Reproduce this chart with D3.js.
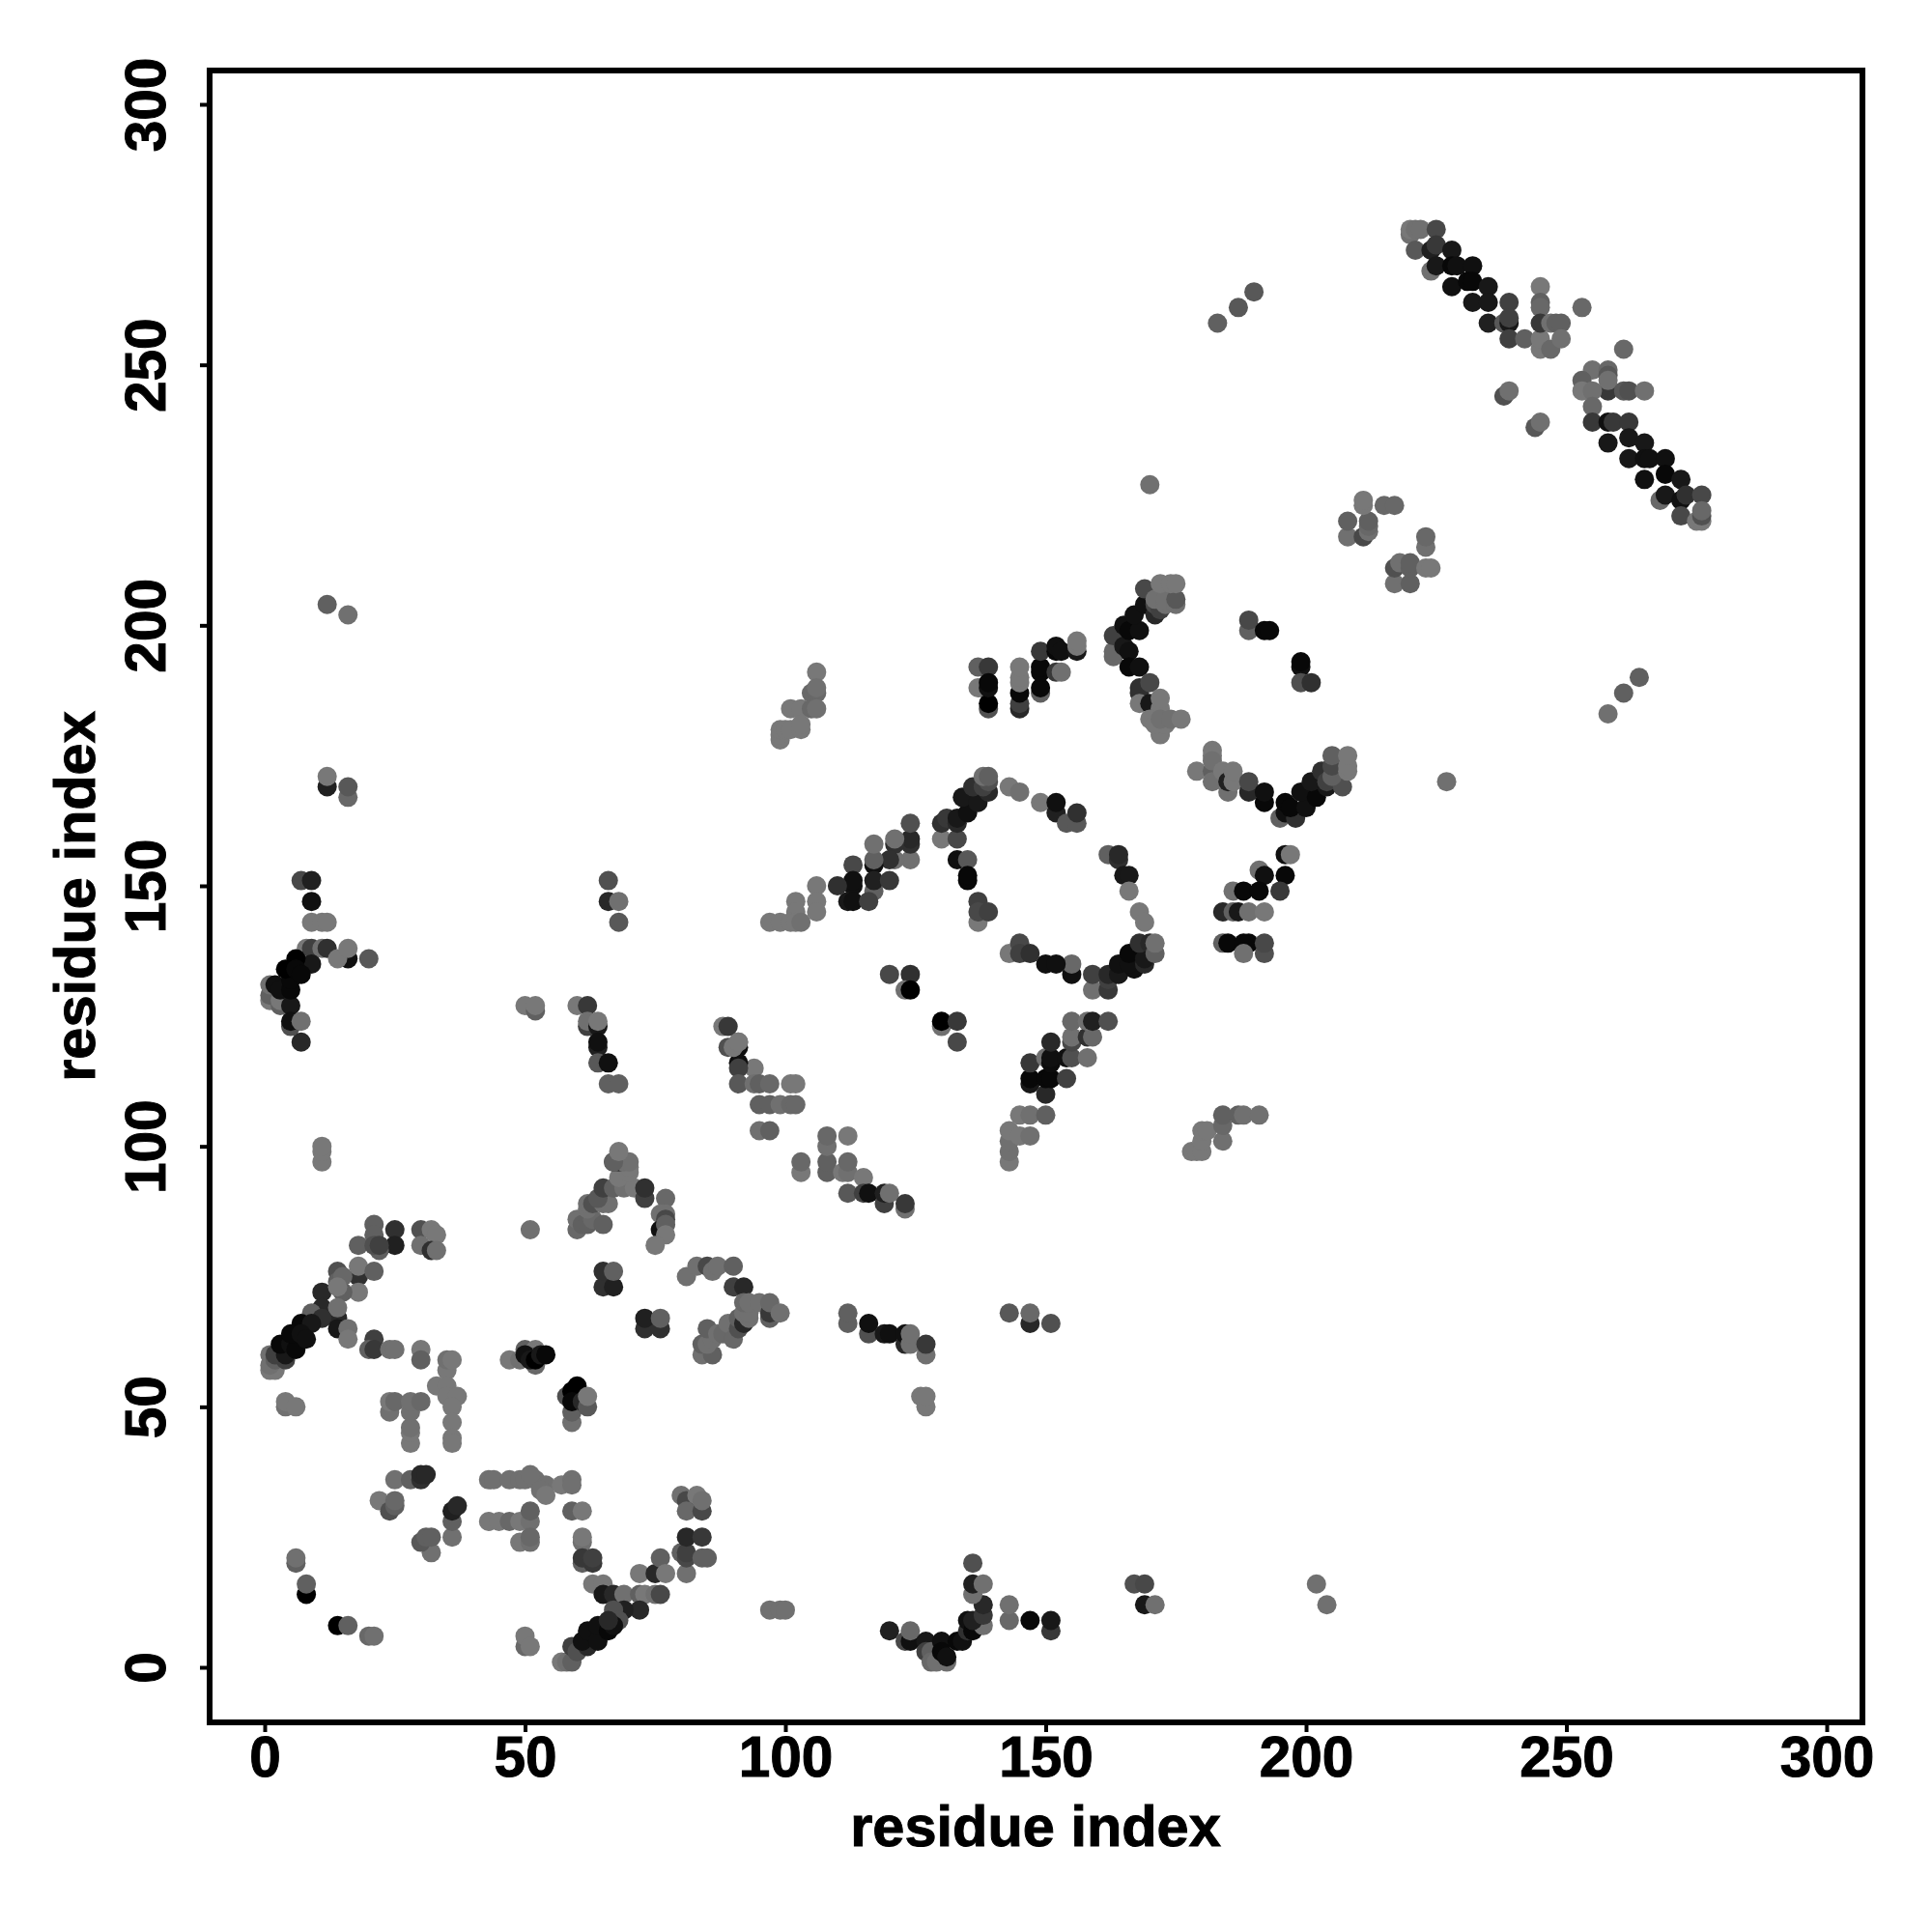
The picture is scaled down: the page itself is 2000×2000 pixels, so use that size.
<!DOCTYPE html>
<html><head><meta charset="utf-8">
<script src="https://cdn.jsdelivr.net/npm/d3@7"></script>
<style>html,body{margin:0;background:#fff}svg{display:block}</style>
</head><body><svg id="c" width="2000" height="2000"></svg>
<script>
const xTicks=[0,50,100,150,200,250,300];
const yTicks=[0,50,100,150,200,250,300];
const axisLabel="residue index";
// each row: residue x, residue y, grey level
const clusterA=[[21,85,0x60],[21,83,0x60],[25,84,0x30],[25,81,0x20],[18,81,0x60],[22,80,0x60],[21,81,0x50],[22,81,0x40],[30,84,0x50],[32,84,0x78],[33,83,0x78],[30,81,0x70],[32,80,0x30],[33,80,0x70],
[18,75,0x30],[18,77,0x78],[21,76,0x60],[14,76,0x50],[14,74,0x60],[15,75,0x68],[18,72,0x78],[15,72,0x60],[11,72,0x28],[14,73,0x78],[11,69,0x28],[14,67,0x28],[14,69,0x70],[9,68,0x60],[11,67,0x30],[7,66,0x08],[9,66,0x18],[14,65,0x18],[16,65,0x70],[16,63,0x78],
[1,57,0x78],[2,57,0x78],[1,58,0x70],[1,60,0x70],[2,59,0x60],[2,60,0x40],[4,59,0x40],[4,60,0x18],[3,62,0x08],[5,62,0x10],[6,61,0x08],[5,64,0x08],[7,64,0x10],[8,63,0x10],
[21,63,0x40],[20,61,0x60],[21,61,0x38],[24,61,0x70],[25,61,0x70],[30,61,0x78],[30,59,0x60],[35,57,0x78],[35,59,0x70],[36,59,0x78],[33,54,0x78],[35,54,0x78],[35,52,0x78],[37,52,0x78],[36,50,0x78],[36,47,0x78],[36,44,0x78],[36,43,0x78],
[24,49,0x70],[24,51,0x78],[25,51,0x68],[28,43,0x78],[28,45,0x78],[28,46,0x70],[28,49,0x70],[28,51,0x70],[30,51,0x68],[4,50,0x70],[4,51,0x78],[6,50,0x78]];
const clusterB=[[25,36,0x70],[28,36,0x60],[30,36,0x30],[30,37,0x28],[31,37,0x28],[22,32,0x78],[24,30,0x50],[25,31,0x60],[25,32,0x68],[36,25,0x70],[36,28,0x60],[36,30,0x20],[37,31,0x28],[32,22,0x70],[30,24,0x58],[31,25,0x60],[32,25,0x60],
[43,36,0x70],[44,36,0x70],[47,36,0x70],[49,36,0x70],[50,36,0x70],[52,36,0x70],[51,37,0x70],[54,35,0x70],[53,34,0x70],[54,33,0x78],[57,35,0x78],[59,36,0x70],[59,35,0x70],
[43,28,0x78],[45,28,0x78],[47,28,0x68],[49,28,0x78],[51,28,0x70],[51,30,0x60],[49,24,0x78],[51,24,0x70],[51,25,0x68],[59,30,0x60],[61,30,0x78],[61,24,0x70],[61,25,0x78],[61,20,0x60],[63,20,0x38],[61,21,0x38],[63,21,0x40],
[63,16,0x78],[65,16,0x78],[65,14,0x18],[67,14,0x28],[69,14,0x70],[72,18,0x78],[75,18,0x28],[76,21,0x60],[77,18,0x78],[72,14,0x60],[73,14,0x78],[75,14,0x70],[76,14,0x48],[72,11,0x28],[69,11,0x20],[67,11,0x50],[68,9,0x50],
[57,1,0x78],[58,1,0x70],[59,1,0x60],[59,4,0x40],[60,3,0x50],[62,4,0x28],[61,5,0x10],[62,7,0x10],[64,5,0x10],[64,8,0x10],[66,7,0x08],[67,8,0x10],[66,9,0x28],
[81,18,0x70],[80,22,0x60],[81,21,0x48],[81,22,0x40],[81,25,0x28],[84,25,0x38],[84,21,0x60],[85,21,0x60],[80,33,0x70],[81,32,0x48],[83,33,0x78],[81,30,0x68],[84,30,0x48],[84,32,0x70],
[6,20,0x60],[6,21,0x70],[8,14,0x00],[8,16,0x60],[14,8,0x00],[16,8,0x60],[20,6,0x68],[21,6,0x70],[50,4,0x68],[50,6,0x78],[51,4,0x78],[51,84,0x70],
[47,59,0x78],[49,59,0x70],[50,61,0x60],[52,61,0x78],[52,58,0x68],[50,60,0x10],[51,59,0x18],[52,59,0x00],[53,60,0x18],[54,60,0x08],
[59,47,0x70],[59,49,0x60],[58,52,0x50],[60,54,0x00],[59,53,0x00],[59,51,0x08],[61,51,0x28],[62,50,0x58],[62,52,0x78]];
const clusterC=[[60,84,0x68],[60,86,0x70],[61,85,0x60],[62,85,0x60],[63,86,0x68],[65,85,0x60],[62,88,0x70],[62,89,0x70],[63,89,0x50],[65,89,0x70],[66,89,0x70],[64,90,0x58],[65,92,0x40],[67,92,0x60],[69,92,0x70],[71,92,0x78],[68,94,0x78],[70,95,0x78],[70,96,0x78],[67,97,0x40],[68,97,0x30],[69,97,0x70],[70,97,0x70],[67,97,0x60],[68,99,0x78],
[73,90,0x40],[73,92,0x30],[77,90,0x68],[76,87,0x70],[77,87,0x70],[77,86,0x48],[76,84,0x10],[77,85,0x60],[77,83,0x78],[75,81,0x78],
[65,73,0x30],[67,73,0x20],[65,76,0x30],[67,76,0x60],[73,65,0x30],[76,65,0x30],[73,67,0x20],[76,67,0x60],
[81,75,0x70],[83,77,0x70],[85,77,0x48],[86,76,0x70],[87,77,0x70],[90,77,0x60],[90,73,0x40],[92,73,0x28],
[84,60,0x70],[86,60,0x60],[84,62,0x60],[85,62,0x70],[86,63,0x70],[85,65,0x60],[87,64,0x70],[88,64,0x68],[89,66,0x70],[90,63,0x68],[91,65,0x50],[91,67,0x60],[92,66,0x28],[93,67,0x70],[92,68,0x70],[93,68,0x70],[92,70,0x68],[93,70,0x70],[95,70,0x70],[97,67,0x60],[97,68,0x38],[97,70,0x68],[99,68,0x70]];
const clusterD=[[112,66,0x60],[112,68,0x60],[116,64,0x50],[116,66,0x10],[119,64,0x18],[120,64,0x10],[123,62,0x28],[123,64,0x10],[124,62,0x70],[124,64,0x70],[127,60,0x70],[127,62,0x38],[126,52,0x78],[127,50,0x78],[127,52,0x78],
[143,68,0x58],[147,66,0x28],[147,68,0x68],[151,66,0x50],[97,11,0x70],[99,11,0x70],[100,11,0x70],
[120,7,0x20],[123,5,0x48],[124,5,0x10],[124,7,0x68],[127,5,0x18],[127,3,0x40],[128,3,0x60],[128,1,0x68],[129,1,0x70],[131,1,0x70],[130,5,0x10],[130,3,0x08],[131,2,0x10],[133,5,0x08],[134,5,0x10],[135,7,0x30],[135,9,0x10],[136,7,0x08],[138,8,0x70],[136,9,0x20],[138,10,0x38],[138,12,0x28],[136,14,0x70],[136,16,0x20],[138,16,0x70],[136,20,0x50],
[143,9,0x68],[143,12,0x70],[147,9,0x08],[151,7,0x38],[151,9,0x18],[167,16,0x50],[169,16,0x48],[169,12,0x18],[171,12,0x70],[202,16,0x70],[204,12,0x70],
[120,133,0x48],[124,133,0x30],[123,130,0x70],[124,130,0x00],[130,123,0x70],[130,124,0x00],[133,124,0x38],[133,120,0x48],
[94,115,0x78],[91,120,0x70],[91,119,0x10],[91,116,0x10],[91,115,0x40],[91,112,0x58],[94,112,0x70],[95,112,0x60],[97,112,0x68],[101,112,0x78],[102,112,0x78],[95,108,0x60],[97,108,0x60],[99,108,0x70],[101,108,0x68],[102,108,0x68],[95,103,0x70],[97,103,0x60],
[108,95,0x60],[108,97,0x60],[108,100,0x70],[108,102,0x68],[112,102,0x78],[103,95,0x78],[103,97,0x68],[111,95,0x78],[112,95,0x70],[112,97,0x68],[115,94,0x78],[112,91,0x58],[115,91,0x40],[116,91,0x10],[119,89,0x40],[119,91,0x20],[120,91,0x70],[123,88,0x70],[123,89,0x38]];
const clusterE=[[147,112,0x18],[147,113,0x08],[147,116,0x38],[150,110,0x28],[150,113,0x08],[151,113,0x08],[150,117,0x70],[151,116,0x0c],[151,117,0x10],[151,120,0x28],[154,113,0x40],[154,117,0x10],[155,117,0x50],[158,117,0x70],[155,120,0x48],[155,121,0x70],[155,124,0x68],[158,121,0x30],[159,121,0x68],[158,124,0x70],[159,124,0x20],[162,124,0x50],
[143,97,0x78],[143,99,0x70],[143,101,0x70],[143,103,0x78],[145,102,0x78],[147,102,0x70],[145,106,0x78],[147,106,0x70],[150,106,0x60],
[178,99,0x78],[179,99,0x78],[180,99,0x78],[180,101,0x78],[180,103,0x78],[181,103,0x78],[184,101,0x70],[184,104,0x68],[184,106,0x60],[187,106,0x60],[188,106,0x70],[191,106,0x70],
[12,169,0x20],[12,171,0x78],[16,167,0x68],[16,169,0x58],[7,151,0x48],[9,151,0x20],[9,147,0x10],[9,143,0x78],[11,143,0x78],[12,143,0x78],
[8,138,0x78],[9,138,0x40],[11,138,0x70],[12,138,0x30],[16,136,0x10],[14,136,0x78],[16,138,0x78],[20,136,0x58],[9,135,0x18],[6,136,0x00],[1,128,0x78],[1,129,0x60],[1,131,0x70],[3,127,0x60],[3,128,0x78],[2,131,0x10],[3,130,0x10],[5,127,0x18],[5,130,0x08],[5,132,0x08],[4,134,0x00],[6,134,0x08],[7,133,0x08],[5,123,0x50],[5,124,0x10],[7,124,0x70],[7,120,0x28],
[50,127,0x78],[52,126,0x60],[52,127,0x78],[60,127,0x78],[62,127,0x38],[62,123,0x40],[62,124,0x70],[64,123,0x18],[64,124,0x78],[64,119,0x20],[64,120,0x10],[64,116,0x58],[66,116,0x10],[66,112,0x60],[68,112,0x60],
[66,151,0x50],[66,147,0x28],[68,147,0x70],[68,143,0x58],[88,123,0x78],[89,123,0x38],[89,119,0x50],[90,119,0x78],[91,120,0x78],
[11,97,0x78],[11,99,0x78],[11,100,0x78],[12,204,0x60],[16,202,0x70]];
const clusterF=[[106,191,0x78],[105,187,0x68],[106,187,0x68],[106,188,0x70],[101,184,0x78],[103,184,0x78],[105,184,0x68],[106,184,0x70],[99,178,0x78],[99,179,0x78],[99,180,0x78],[100,180,0x78],[101,180,0x78],[103,180,0x78],[103,181,0x78],
[137,188,0x78],[137,192,0x60],[139,192,0x38],[139,184,0x50],[139,185,0x00],[139,188,0x10],[139,189,0x08],[145,184,0x28],[145,185,0x40],[145,187,0x08],[145,189,0x78],[145,190,0x78],[145,192,0x78],
[149,187,0x60],[149,188,0x08],[149,191,0x08],[149,192,0x08],[149,195,0x38],[152,191,0x38],[153,191,0x70],[152,195,0x08],[152,196,0x10],[153,195,0x10],[156,195,0x18],[156,196,0x78],[156,197,0x78],
[163,194,0x68],[163,195,0x68],[163,198,0x40],[165,196,0x18],[166,195,0x10],[165,200,0x10],[166,199,0x08],[168,199,0x10],[167,202,0x10],[169,204,0x10],[171,202,0x28],[169,207,0x48],[171,204,0x48],[172,203,0x40],[171,205,0x70],[173,204,0x70],[173,205,0x70],[175,204,0x70],[175,205,0x58],[172,208,0x78],[174,208,0x78],[175,208,0x78],
[166,192,0x08],[168,192,0x10],[168,187,0x30],[168,188,0x30],[170,189,0x48],[168,185,0x78],[170,185,0x18],[172,184,0x78],[172,186,0x78],[170,182,0x78],[172,179,0x78],[171,181,0x78],[173,181,0x78],[172,182,0x70],[174,182,0x70],[176,182,0x78],
[189,199,0x60],[189,201,0x48],[192,199,0x08],[193,199,0x08],[199,192,0x10],[199,193,0x08],[199,189,0x50],[201,189,0x30],
[179,172,0x78],[182,176,0x78],[182,175,0x78],[182,172,0x60],[182,174,0x70],[182,170,0x70],[184,172,0x78],[185,168,0x70],[185,170,0x20],[186,170,0x78],[186,172,0x78],[189,168,0x28],[189,170,0x48],[192,166,0x08],[192,168,0x10],[195,163,0x60],[196,164,0x10],[196,166,0x08],[198,163,0x30],[197,165,0x08],[200,165,0x10],[199,168,0x10],[202,167,0x08],[201,170,0x18],[204,169,0x18],[203,172,0x30],[204,170,0x40],[207,169,0x50],[205,171,0x60],[205,173,0x48],[205,175,0x60],[208,172,0x78],[208,173,0x78],[208,175,0x78],
[191,153,0x70],[196,156,0x10],[197,156,0x78],[192,152,0x10],[196,152,0x08],[186,149,0x70],[188,149,0x08],[191,149,0x08],[195,149,0x38],[184,145,0x28],[186,145,0x60],[187,145,0x18],[189,145,0x70],[192,145,0x78],[184,139,0x60],[185,139,0x08],[188,139,0x08],[189,139,0x08],[188,137,0x70],[192,137,0x50],[192,139,0x48]];
const clusterG=[[143,169,0x78],[145,168,0x70],[149,166,0x78],[152,164,0x20],[152,166,0x10],[154,162,0x58],[156,162,0x58],[156,164,0x30],[162,156,0x60],[164,155,0x30],[164,156,0x28],[165,152,0x18],[166,152,0x18],[166,149,0x78],[168,145,0x78],[169,143,0x78],
[159,130,0x70],[159,133,0x40],[162,130,0x38],[162,132,0x40],[162,133,0x28],[164,133,0x18],[164,135,0x10],[167,134,0x10],[166,135,0x10],[166,137,0x08],[169,135,0x28],[169,136,0x18],[168,139,0x30],[170,139,0x28],[171,137,0x60],[171,139,0x70],[155,133,0x10],[155,135,0x68],[150,135,0x10],[152,135,0x10],
[143,137,0x78],[145,139,0x48],[145,137,0x40],[147,137,0x30],[137,143,0x78],[137,147,0x40],[137,145,0x48],[139,145,0x40],[133,155,0x10],[135,155,0x58],[135,151,0x08],[135,152,0x08],
[130,159,0x78],[133,159,0x48],[130,162,0x30],[131,163,0x38],[133,162,0x28],[133,163,0x18],[135,164,0x10],[134,167,0x18],[137,166,0x18],[136,169,0x30],[139,168,0x28],[138,169,0x40],[139,170,0x50],[138,171,0x70],[139,171,0x60],
[124,155,0x70],[124,158,0x30],[124,159,0x28],[124,162,0x50],[121,155,0x70],[121,158,0x30],[121,159,0x70],[120,155,0x30],[117,154,0x10],[117,155,0x60],[117,158,0x70],[113,154,0x48],[113,150,0x10],[113,151,0x10],[117,149,0x60],[117,151,0x20],[120,151,0x38],[110,150,0x30],[112,147,0x18],[113,147,0x10],[116,147,0x40],
[106,150,0x78],[106,147,0x78],[106,145,0x78],[102,147,0x78],[102,145,0x78],[97,143,0x78],[99,143,0x78],[101,143,0x78],[102,143,0x78],[103,143,0x70]];
const clusterH=[[220,275,0x70],[220,276,0x78],[221,276,0x70],[222,276,0x70],[225,276,0x48],[221,272,0x58],[224,268,0x70],[224,272,0x20],[225,273,0x38],[228,272,0x18],[225,269,0x18],[228,269,0x08],[229,269,0x10],[232,269,0x10],[228,265,0x10],[231,266,0x08],[232,266,0x08],[235,265,0x18],[232,262,0x18],[235,262,0x18],[239,262,0x40],[235,258,0x20],[238,258,0x58],[239,258,0x18],[239,259,0x40],[239,255,0x40],[242,255,0x60],
[245,253,0x78],[245,255,0x78],[247,253,0x68],[245,265,0x78],[245,262,0x60],[245,261,0x68],[245,258,0x38],[247,258,0x70],[248,258,0x60],[249,258,0x60],[249,255,0x70],[253,261,0x68],
[238,244,0x50],[239,245,0x70],[244,238,0x58],[245,239,0x70],
[261,253,0x68],[255,249,0x70],[258,249,0x68],[258,248,0x58],[253,247,0x60],[258,245,0x38],[258,247,0x70],[253,245,0x78],[255,245,0x70],[261,245,0x58],[262,245,0x50],[265,245,0x70],[255,242,0x68],[255,239,0x38],[258,239,0x10],[259,239,0x38],[262,239,0x38],[258,235,0x18],[262,236,0x18],[265,235,0x18],[262,232,0x18],[265,232,0x10],[266,232,0x10],[269,232,0x10],[265,228,0x10],[269,229,0x08],[272,228,0x18],[268,224,0x68],[269,225,0x18],[272,224,0x10],[273,225,0x30],[276,225,0x48],[272,221,0x48],[275,220,0x78],[276,220,0x78],[276,221,0x50],[276,222,0x68],
[208,217,0x70],[208,220,0x60],[211,217,0x48],[212,218,0x70],[212,219,0x68],[212,220,0x60],[211,223,0x78],[211,224,0x78],[215,223,0x68],[217,223,0x68],[223,215,0x70],[223,217,0x68],
[217,208,0x70],[220,208,0x60],[217,211,0x50],[218,212,0x70],[220,211,0x60],[220,212,0x60],[223,211,0x78],[224,211,0x78],
[170,227,0x70],[183,258,0x60],[187,261,0x58],[190,264,0x58],[258,183,0x70],[261,187,0x60],[264,190,0x60],[227,170,0x70]];
const contacts=[...clusterA,...clusterB,...clusterC,...clusterD,...clusterE,...clusterF,...clusterG,...clusterH];

const svg=d3.select("#c");
const font='"Liberation Sans",Arial,sans-serif';
const x=d3.scaleLinear().domain([0,300]).range([274,1891]);
const y=d3.scaleLinear().domain([0,300]).range([1726,108]);
const frame={l:217,r:1928,t:73,b:1783};

svg.append("g").selectAll("circle").data(contacts).join("circle")
  .attr("cx",d=>x(d[0])).attr("cy",d=>y(d[1])).attr("r",10)
  .attr("fill",d=>d3.rgb(d[2],d[2],d[2]));

svg.append("rect").attr("x",frame.l).attr("y",frame.t)
  .attr("width",frame.r-frame.l).attr("height",frame.b-frame.t)
  .attr("fill","none").attr("stroke","#000").attr("stroke-width",6);

const gx=svg.append("g").attr("transform",`translate(0,${frame.b})`)
  .call(d3.axisBottom(x).tickValues(xTicks).tickSize(10).tickPadding(8));
const gy=svg.append("g").attr("transform",`translate(${frame.l},0)`)
  .call(d3.axisLeft(y).tickValues(yTicks).tickSize(10));
[gx,gy].forEach(g=>{g.select(".domain").remove();
  g.selectAll(".tick line").attr("stroke","#000").attr("stroke-width",4);
  g.selectAll("text").attr("fill","#000").attr("stroke","#000").attr("stroke-width",1)
   .style("font-family",font).style("font-weight","700").style("font-size","58.5px");});
gx.selectAll("text").attr("dy",null).attr("y",56);
gy.selectAll("text").attr("x",null).attr("dy",null).attr("text-anchor","middle")
  .attr("transform","translate(-46,0) rotate(-90)");

svg.append("text").attr("x",1072).attr("y",1911).attr("text-anchor","middle")
  .attr("stroke","#000").attr("stroke-width",1)
  .style("font-family",font).style("font-weight","700").style("font-size","59.5px").text(axisLabel);
svg.append("text").attr("transform","translate(98,928) rotate(-90)").attr("text-anchor","middle")
  .attr("stroke","#000").attr("stroke-width",1)
  .style("font-family",font).style("font-weight","700").style("font-size","59.5px").text(axisLabel);
</script></body></html>
